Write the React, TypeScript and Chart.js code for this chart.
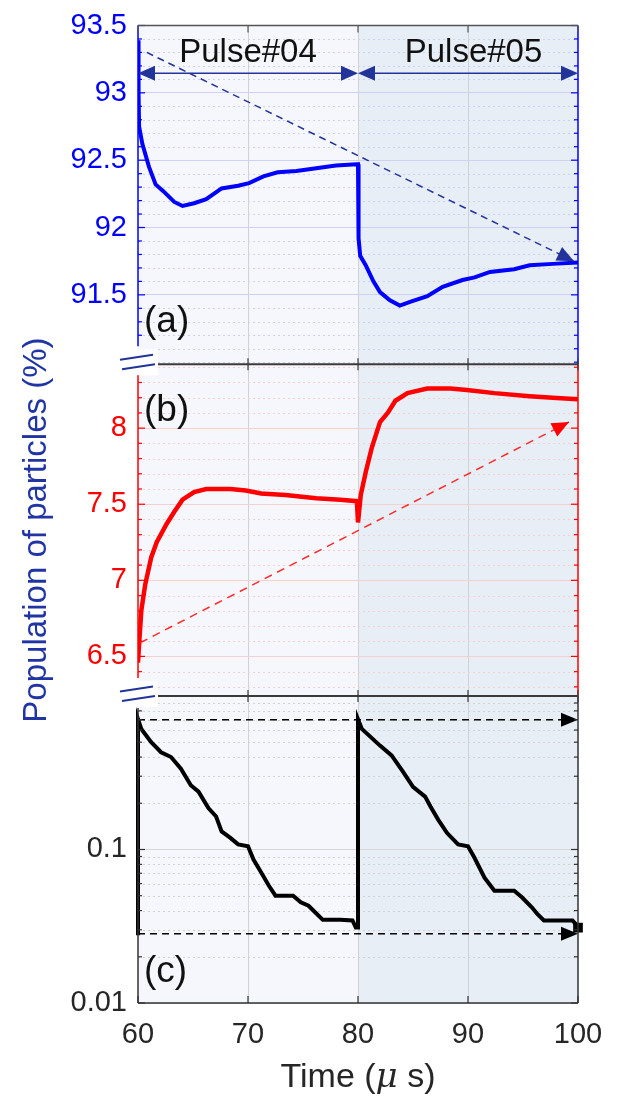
import React, { useEffect, useRef } from 'react';
import { Chart, registerables } from 'chart.js';

Chart.register(...registerables);

const FONT = "'Liberation Sans', Arial, Helvetica, sans-serif";

// ---------- x axis ----------
const xRange = [60, 100];
const xTicks = [60, 70, 80, 90, 100];
const bandEdges = [60, 80, 100];
const bandColors = ['#f6f7fd', '#e7eef6'];

// ---------- panel (a) ----------
const timeA = [60, 60.05, 60.1, 60.4, 61.0, 61.6, 62.3, 63.3, 64.05, 65.1, 66.2, 67.6, 69.1, 70.1, 71.4, 72.7, 74.4, 76.2, 78.0, 79.9, 80.0, 80.05, 80.2, 80.7, 81.4, 82.0, 82.9, 83.8, 84.8, 86.3, 87.7, 89.5, 90.6, 92.0, 94.2, 95.6, 97.7, 100];
const popA = [93.39, 93.0, 92.75, 92.62, 92.45, 92.32, 92.27, 92.19, 92.16, 92.18, 92.21, 92.29, 92.31, 92.33, 92.38, 92.41, 92.42, 92.44, 92.46, 92.47, 92.47, 91.92, 91.79, 91.72, 91.60, 91.52, 91.46, 91.42, 91.45, 91.49, 91.56, 91.61, 91.63, 91.67, 91.69, 91.72, 91.73, 91.74];
const ticksA = [91.5, 92, 92.5, 93, 93.5];
const rangeA = [90.985, 93.5];

// ---------- panel (b) ----------
const timeB = [60, 60.1, 60.3, 60.65, 61.2, 61.7, 62.6, 63.3, 64.05, 65.1, 66.2, 68.4, 69.8, 71.2, 73.4, 76.2, 78.4, 79.9, 80.0, 80.25, 80.7, 81.25, 82.0, 82.7, 83.4, 84.5, 86.3, 88.4, 89.9, 92.4, 95.6, 97.7, 100];
const popB = [6.46, 6.58, 6.80, 6.97, 7.15, 7.25, 7.37, 7.45, 7.53, 7.58, 7.60, 7.60, 7.59, 7.57, 7.56, 7.54, 7.53, 7.52, 7.38, 7.56, 7.71, 7.87, 8.04, 8.10, 8.18, 8.23, 8.26, 8.26, 8.25, 8.23, 8.21, 8.20, 8.19];
const ticksB = [6.5, 7, 7.5, 8];
const rangeB = [6.24, 8.42];

// ---------- panel (c) ----------
const timeC = [60, 60, 60.3, 61.2, 62.1, 63.0, 63.9, 64.8, 65.5, 66.4, 67.1, 67.6, 68.4, 69.1, 70.0, 70.5, 71.2, 71.9, 72.5, 74.1, 74.8, 75.5, 76.1, 76.8, 78.4, 79.5, 79.8, 80.0, 80.0, 80.35, 82.0, 83.05, 84.1, 85.0, 86.1, 86.6, 87.3, 88.1, 89.1, 90.0, 90.6, 91.5, 92.4, 94.2, 94.9, 95.8, 96.3, 96.9, 99.5, 99.9, 100];
const popC = [0.0276, 0.706, 0.61, 0.50, 0.43, 0.40, 0.336, 0.262, 0.238, 0.186, 0.164, 0.131, 0.119, 0.108, 0.105, 0.086, 0.0707, 0.058, 0.050, 0.050, 0.0453, 0.043, 0.039, 0.0348, 0.0348, 0.0345, 0.031, 0.031, 0.706, 0.61, 0.475, 0.41, 0.32, 0.256, 0.221, 0.19, 0.156, 0.128, 0.108, 0.105, 0.088, 0.0656, 0.0539, 0.0539, 0.0488, 0.042, 0.038, 0.0345, 0.0345, 0.032, 0.031];
const ticksC = [0.01, 0.1];
const rangeC = [0.01, 1];

// ---------- annotations ----------
const pulseNames = ['Pulse#04', 'Pulse#05'];
const pulseStart = [60, 80];
const pulseEnd = [80, 100];
const pulseLabelT = [70, 90.5];
const pulseLabelV = 93.3;
const pulseArrowV = 93.145;
const trendAT = [60.8, 99.64];
const trendAV = [93.3, 91.75];
const trendBT = [60.2, 99.18];
const trendBV = [6.59, 8.04];
const levelCT = [60, 100];
const levelCV = [0.7, 0.0283];
const panelTags = ['(a)', '(b)', '(c)'];
const yTitle = 'Population of particles (%)';

const BLUE = '#0000ff';
const RED = '#ff0000';
const NAVY = '#22339a';
const DARK = '#262626';

function minorLinear(lo: number, hi: number, step: number, majors: number[]) {
  const out: number[] = [];
  const n0 = Math.ceil(lo / step - 1e-9);
  const n1 = Math.floor(hi / step + 1e-9);
  for (let n = n0; n <= n1; n++) {
    const v = +(n * step).toFixed(4);
    if (!majors.some((m) => Math.abs(m - v) < 1e-6)) out.push(v);
  }
  return out;
}
function minorLog(lo: number, hi: number) {
  const out: number[] = [];
  for (let d = lo; d < hi - 1e-12; d *= 10) {
    for (let k = 2; k <= 9; k++) out.push(+(d * k).toPrecision(3));
  }
  return out;
}

function head(ctx: CanvasRenderingContext2D, x: number, y: number, ang: number, len: number, half: number) {
  const bx = x - len * Math.cos(ang);
  const by = y - len * Math.sin(ang);
  const px = -Math.sin(ang) * half;
  const py = Math.cos(ang) * half;
  ctx.beginPath();
  ctx.moveTo(x, y);
  ctx.lineTo(bx + px, by + py);
  ctx.lineTo(bx - px, by - py);
  ctx.closePath();
  ctx.fill();
}

function line(ctx: CanvasRenderingContext2D, x0: number, y0: number, x1: number, y1: number) {
  ctx.beginPath();
  ctx.moveTo(x0, y0);
  ctx.lineTo(x1, y1);
  ctx.stroke();
}

const decor = {
  id: 'decor',
  beforeDraw(chart: any) {
    const { ctx, chartArea: ca, scales } = chart;
    const x = scales.x;
    ctx.save();
    for (let i = 0; i < bandColors.length; i++) {
      const x0 = x.getPixelForValue(bandEdges[i]);
      const x1 = x.getPixelForValue(bandEdges[i + 1]);
      ctx.fillStyle = bandColors[i];
      ctx.fillRect(x0, ca.top, x1 - x0, ca.bottom - ca.top);
    }
    ctx.restore();
  },
  beforeDatasetsDraw(chart: any) {
    const { ctx, chartArea: ca, scales } = chart;
    const panels = [
      { s: scales.ya, minors: minorLinear(rangeA[0], rangeA[1], 0.1, ticksA), color: '#ccd1f5' },
      { s: scales.yb, minors: minorLinear(rangeB[0], rangeB[1], 0.1, ticksB), color: '#f4d0d0' },
      { s: scales.yc, minors: minorLog(rangeC[0], rangeC[1]), color: '#d2d2d2' },
    ];
    ctx.save();
    ctx.lineWidth = 1;
    ctx.setLineDash([2, 3]);
    for (const p of panels) {
      ctx.strokeStyle = p.color;
      for (const v of p.minors) {
        const y = Math.round(p.s.getPixelForValue(v)) + 0.5;
        if (y < p.s.top + 1 || y > p.s.bottom - 1) continue;
        line(ctx, ca.left, y, ca.right, y);
      }
    }
    ctx.restore();
  },
  afterDatasetsDraw(chart: any) {
    const { ctx, scales } = chart;
    const x = scales.x;
    const ya = scales.ya;
    const yb = scales.yb;
    const yc = scales.yc;
    ctx.save();
    // pulse arrows
    ctx.strokeStyle = NAVY;
    ctx.fillStyle = NAVY;
    ctx.lineWidth = 1.5;
    const py = ya.getPixelForValue(pulseArrowV);
    for (let i = 0; i < pulseStart.length; i++) {
      const x0 = x.getPixelForValue(pulseStart[i]);
      const x1 = x.getPixelForValue(pulseEnd[i]);
      line(ctx, x0 + 4, py, x1 - 4, py);
      head(ctx, x0, py, Math.PI, 17, 7.5);
      head(ctx, x1, py, 0, 17, 7.5);
    }
    // trend (a)
    ctx.setLineDash([7, 5]);
    let x0 = x.getPixelForValue(trendAT[0]);
    let y0 = ya.getPixelForValue(trendAV[0]);
    let x1 = x.getPixelForValue(trendAT[1]);
    let y1 = ya.getPixelForValue(trendAV[1]);
    line(ctx, x0, y0, x1, y1);
    ctx.setLineDash([]);
    head(ctx, x1, y1, Math.atan2(y1 - y0, x1 - x0), 17, 7.5);
    // trend (b)
    ctx.strokeStyle = '#ff2a2a';
    ctx.fillStyle = RED;
    ctx.setLineDash([8, 6]);
    x0 = x.getPixelForValue(trendBT[0]);
    y0 = yb.getPixelForValue(trendBV[0]);
    x1 = x.getPixelForValue(trendBT[1]);
    y1 = yb.getPixelForValue(trendBV[1]);
    line(ctx, x0, y0, x1, y1);
    ctx.setLineDash([]);
    head(ctx, x1, y1, Math.atan2(y1 - y0, x1 - x0), 17, 7.5);
    // levels (c)
    ctx.strokeStyle = '#000';
    ctx.fillStyle = '#000';
    for (const v of levelCV) {
      const yy = yc.getPixelForValue(v);
      const xa = x.getPixelForValue(levelCT[0]);
      const xb = x.getPixelForValue(levelCT[1]);
      ctx.setLineDash([7, 5]);
      line(ctx, xa, yy, xb - 10, yy);
      ctx.setLineDash([]);
      head(ctx, xb, yy, 0, 17, 7);
    }
    ctx.restore();
  },
  afterDraw(chart: any) {
    const { ctx, chartArea: ca, scales } = chart;
    const x = scales.x;
    const ya = scales.ya;
    const yb = scales.yb;
    const yc = scales.yc;
    ctx.save();
    // inward y ticks
    const tickSets = [
      { s: ya, majors: ticksA, minors: minorLinear(rangeA[0], rangeA[1], 0.1, ticksA), color: BLUE, l0: ya.top, l1: ya.bottom - 18 },
      { s: yb, majors: ticksB, minors: minorLinear(rangeB[0], rangeB[1], 0.1, ticksB), color: RED, l0: yb.top + 10, l1: yb.bottom - 18 },
      { s: yc, majors: ticksC, minors: minorLog(rangeC[0], rangeC[1]), color: '#333', l0: yc.top + 12, l1: yc.bottom },
    ];
    for (const t of tickSets) {
      ctx.strokeStyle = t.color;
      ctx.lineWidth = 1.2;
      const all = [...t.majors.map((v) => [v, 7]), ...t.minors.map((v) => [v, 4])];
      for (const [v, len] of all) {
        const y = t.s.getPixelForValue(v);
        if (y >= t.l0 - 0.5 && y <= t.l1 + 0.5) line(ctx, ca.left, y, ca.left + len, y);
        if (y >= t.s.top - 0.5 && y <= t.s.bottom + 0.5) line(ctx, ca.right, y, ca.right - len, y);
      }
      ctx.lineWidth = 1.5;
      line(ctx, ca.left, t.l0, ca.left, t.l1);
      line(ctx, ca.right, t.s.top, ca.right, t.s.bottom);
    }
    // top and bottom borders
    ctx.strokeStyle = '#555';
    ctx.lineWidth = 1.5;
    line(ctx, ca.left, ca.top, ca.right, ca.top);
    ctx.strokeStyle = '#333';
    line(ctx, ca.left, ca.bottom, ca.right, ca.bottom);
    // x ticks on top / bottom
    ctx.lineWidth = 1.2;
    for (const v of xTicks) {
      const xx = x.getPixelForValue(v);
      line(ctx, xx, ca.bottom, xx, ca.bottom - 7);
      ctx.strokeStyle = '#555';
      line(ctx, xx, ca.top, xx, ca.top + 7);
      ctx.strokeStyle = '#333';
    }
    // separators with breaks
    const seps = [ya.bottom, yb.bottom];
    for (const sy of seps) {
      ctx.fillStyle = '#ffffff';
      ctx.fillRect(ca.left - 22, sy - 15, 42, 26);
      ctx.strokeStyle = '#3a3a3a';
      ctx.lineWidth = 2;
      line(ctx, ca.left + 20, sy, ca.right, sy);
      ctx.lineWidth = 1.2;
      for (const v of xTicks) {
        const xx = x.getPixelForValue(v);
        if (xx < ca.left + 20) continue;
        line(ctx, xx, sy - 6, xx, sy + 6);
      }
      ctx.strokeStyle = NAVY;
      ctx.lineWidth = 2;
      line(ctx, ca.left - 18, sy - 4.5, ca.left + 15, sy - 9.5);
      line(ctx, ca.left - 16, sy + 5, ca.left + 17, sy);
    }
    // texts
    ctx.fillStyle = '#111';
    ctx.textBaseline = 'middle';
    ctx.textAlign = 'center';
    ctx.font = `33px ${FONT}`;
    for (let i = 0; i < pulseNames.length; i++) {
      ctx.fillText(pulseNames[i], x.getPixelForValue(pulseLabelT[i]), ya.getPixelForValue(pulseLabelV));
    }
    ctx.textAlign = 'left';
    ctx.font = `37px ${FONT}`;
    ctx.fillText(panelTags[0], ca.left + 6, ya.bottom - 42);
    ctx.fillText(panelTags[1], ca.left + 6, yb.top + 47);
    ctx.fillText(panelTags[2], ca.left + 6, yc.bottom - 31);
    // y title
    ctx.save();
    ctx.translate(37, (yb.top + yb.bottom) / 2);
    ctx.rotate(-Math.PI / 2);
    ctx.textAlign = 'center';
    ctx.fillStyle = '#2034a4';
    ctx.font = `33px ${FONT}`;
    ctx.fillText(yTitle, 0, 0);
    ctx.restore();
    // x title with italic mu
    const parts = [
      { t: 'Time (', f: `34px ${FONT}` },
      { t: 'μ', f: `italic 34px 'DejaVu Serif', serif` },
      { t: ' s)', f: `34px ${FONT}` },
    ];
    let total = 0;
    for (const p of parts) {
      ctx.font = p.f;
      total += ctx.measureText(p.t).width;
    }
    let cx = (ca.left + ca.right) / 2 - total / 2;
    const ty = 1078;
    ctx.fillStyle = DARK;
    ctx.textAlign = 'left';
    for (const p of parts) {
      ctx.font = p.f;
      ctx.fillText(p.t, cx, ty);
      cx += ctx.measureText(p.t).width;
    }
    ctx.restore();
  },
};

const tickFont = { family: FONT, size: 29, lineHeight: 1 };

function setTicks(list: number[]) {
  return (scale: any) => {
    scale.ticks = list.map((v) => ({ value: v }));
  };
}
const fixWidth = (scale: any) => {
  scale.width = 138;
};

export default function App() {
  const ref = useRef<HTMLCanvasElement | null>(null);
  useEffect(() => {
    if (!ref.current) return;
    const lastC = timeC.length - 1;
    const chart = new Chart(ref.current, {
      type: 'line',
      data: {
        datasets: [
          {
            data: timeA.map((t, i) => ({ x: t, y: popA[i] })),
            yAxisID: 'ya',
            borderColor: BLUE,
            borderWidth: 4,
            pointRadius: 0,
            tension: 0,
          },
          {
            data: timeB.map((t, i) => ({ x: t, y: popB[i] })),
            yAxisID: 'yb',
            borderColor: RED,
            borderWidth: 4.5,
            pointRadius: 0,
            tension: 0,
          },
          {
            data: timeC.map((t, i) => ({ x: t, y: popC[i] })),
            yAxisID: 'yc',
            borderColor: '#000',
            backgroundColor: '#000',
            borderWidth: 4,
            pointStyle: 'rect',
            pointRadius: (c: any) => (c.dataIndex === lastC ? 4 : 0),
            tension: 0,
            clip: 8,
          },
        ],
      },
      options: {
        responsive: false,
        maintainAspectRatio: false,
        animation: false,
        devicePixelRatio: 1,
        layout: { padding: { top: 16, right: 43, left: 0, bottom: 0 } },
        plugins: { legend: { display: false }, tooltip: { enabled: false } },
        scales: {
          x: {
            type: 'linear',
            position: 'bottom',
            min: xRange[0],
            max: xRange[1],
            afterBuildTicks: setTicks(xTicks),
            afterFit: (s: any) => {
              s.height = 97;
            },
            ticks: { font: tickFont, color: DARK, padding: 17, maxRotation: 0 },
            grid: {
              drawTicks: false,
              color: (c: any) => (c.tick && (c.tick.value === 60 || c.tick.value === 100) ? 'rgba(0,0,0,0)' : '#d2d2d2'),
              lineWidth: 1,
            },
            border: { display: false },
          },
          yc: {
            type: 'logarithmic',
            position: 'left',
            stack: 'panels',
            stackWeight: 310,
            min: rangeC[0],
            max: rangeC[1],
            afterBuildTicks: setTicks(ticksC),
            afterFit: fixWidth,
            ticks: { font: tickFont, color: DARK, padding: 11, callback: (v: any) => String(v) },
            grid: { drawTicks: false, color: '#d6d6d6' },
            border: { display: false },
          },
          yb: {
            type: 'linear',
            position: 'left',
            stack: 'panels',
            stackWeight: 335,
            min: rangeB[0],
            max: rangeB[1],
            afterBuildTicks: setTicks(ticksB),
            afterFit: fixWidth,
            ticks: { font: tickFont, color: RED, padding: 11, callback: (v: any) => String(v) },
            grid: { drawTicks: false, color: '#f6d0d0' },
            border: { display: false },
          },
          ya: {
            type: 'linear',
            position: 'left',
            stack: 'panels',
            stackWeight: 342,
            min: rangeA[0],
            max: rangeA[1],
            afterBuildTicks: setTicks(ticksA),
            afterFit: fixWidth,
            ticks: { font: tickFont, color: BLUE, padding: 11, callback: (v: any) => String(v) },
            grid: { drawTicks: false, color: (c: any) => (c.tick && c.tick.value === 93.5 ? 'rgba(0,0,0,0)' : '#cdd2f5') },
            border: { display: false },
          },
        },
      } as any,
      plugins: [decor],
    });
    return () => chart.destroy();
  }, []);
  return (
    <div style={{ position: 'absolute', left: 0, top: 0, width: 621, height: 1100, background: '#fff' }}>
      <canvas ref={ref} width={621} height={1100} style={{ display: 'block', width: 621, height: 1100 }} />
    </div>
  );
}
